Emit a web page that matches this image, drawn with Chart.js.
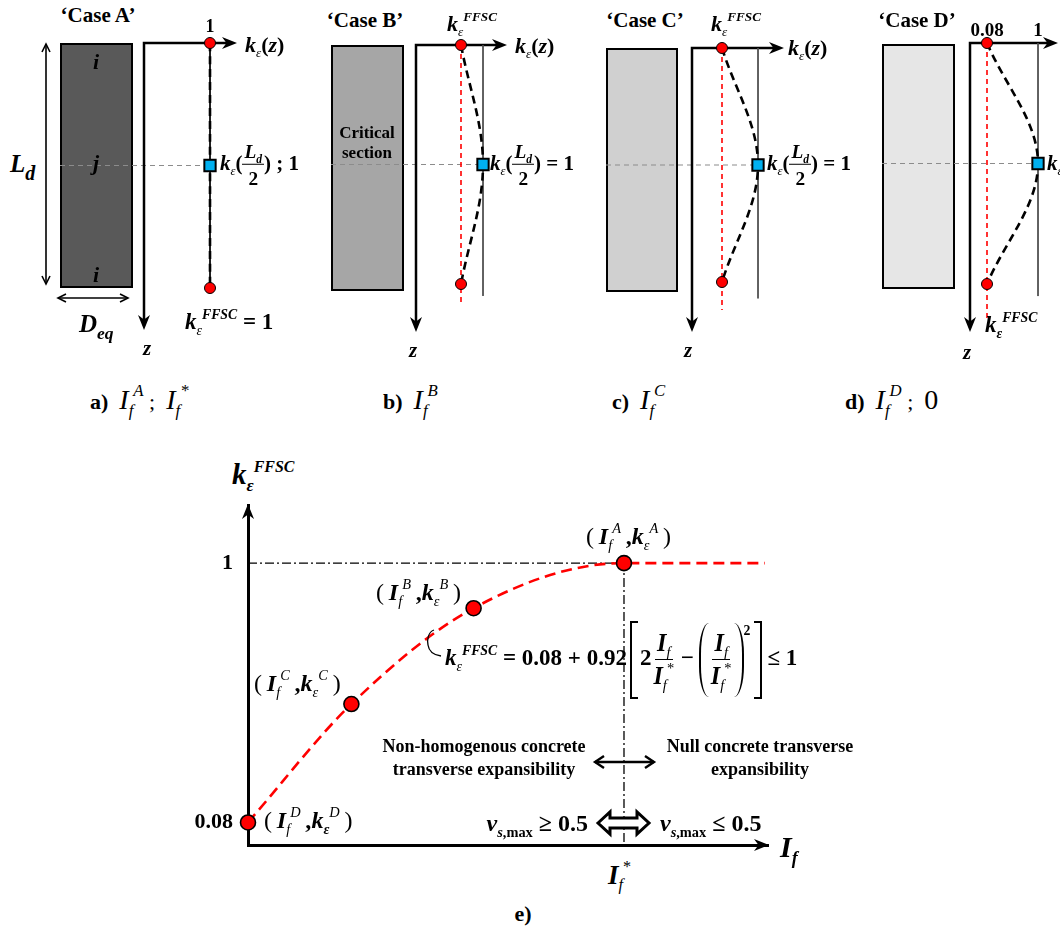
<!DOCTYPE html>
<html>
<head>
<meta charset="utf-8">
<script src="https://cdn.jsdelivr.net/npm/chart.js@4.4.0/dist/chart.umd.min.js"></script>
<style>
html, body { margin: 0; padding: 0; background: #fff; overflow: hidden; }
#page { position: relative; width: 1060px; height: 930px; font-family: "Liberation Serif", "Times New Roman", serif; font-weight: bold; color: #000; }
canvas { position: absolute; }
.lbl { position: absolute; white-space: nowrap; line-height: 1; }
.i { font-style: italic; }
.n { font-weight: normal; }
sub, sup { font-size: 60%; line-height: 0; position: relative; vertical-align: baseline; }
sup { top: -0.75em; }
sub { top: 0.4em; }
.col { position: absolute; box-sizing: border-box; border: 2.5px solid #000; }
.frac { display: inline-flex; flex-direction: column; align-items: center; vertical-align: middle; line-height: 1.1; }
.frac > span { display: block; padding: 0 2px; }
.frac > span:first-child { border-bottom: 1.5px solid #000; padding-bottom: 2px; }
.frac > span:last-child { padding-top: 3px; }
.cap { font-weight: normal; font-style: italic; font-size: 28px; }
.bl, .br { display: inline-block; width: 8px; height: 78px; border: 2.5px solid #000; vertical-align: middle; box-sizing: border-box; }
.bl { border-right: none; margin: 0 2px 0 3px; }
.br { border-left: none; margin: 0 5px 0 4px; }
.pl, .pr { display: inline-block; width: 10px; height: 74px; vertical-align: middle; box-sizing: border-box; }
.pl { border-left: 2.5px solid #000; border-radius: 12px 0 0 12px / 37px 0 0 37px; margin-left: 5px; }
.pr { border-right: 2.5px solid #000; border-radius: 0 12px 12px 0 / 0 37px 37px 0; }
svg { position: absolute; left: 0; top: 0; }
</style>
</head>
<body>
<div id="page"></div>
<script>
// ---------- data ----------
// top panels: k_eps^FFSC of each case, z/Ld of the two end sections and the critical section
const caseNames = ['A', 'B', 'C', 'D'];
const caseKffsc = [1, 0.84, 0.50, 0.08];
const profileZ = [0, 0.5, 1];
const refLineEndZ = [1, 1.05, 1.07, 1.05];      // thin k=1 line
const redLineEndZ = [0, 1.09, 1.12, 1.15];      // red dashed k=kFFSC line

// main chart e): I_f/I_f* and k_eps^FFSC (cases D, C, B, A, end of plateau)
const mainIf = [0, 0.275, 0.6, 1, 1.375];
const mainK = [0.08, 0.50, 0.84, 1, 1];
const mainMarked = [true, true, true, true, false];
const yTickValues = [0.08, 1];
const yTickLabels = ['0.08', '1'];

// ---------- layout ----------
const page = document.getElementById('page');
const panelLayout = [
  { left: 60,  top: 43, right: 237,  bottom: 330, axisX: 144, oneX: 210,  redX: 210, ppu: 66, zOneY: 288, rect: [60, 43, 73, 245],  fill: '#595959' },
  { left: 331, top: 45, right: 507,  bottom: 332, axisX: 416, oneX: 483,  redX: 461, zOneY: 284, rect: [331, 45, 73, 246], fill: '#a6a6a6' },
  { left: 606, top: 48, right: 784,  bottom: 332, axisX: 692, oneX: 758,  redX: 722, zOneY: 282, rect: [606, 48, 72, 244], fill: '#d0d0d0' },
  { left: 882, top: 43, right: 1058, bottom: 332, axisX: 970, oneX: 1038, redX: 987, zOneY: 284, rect: [882, 44, 73, 245], fill: '#e6e6e6' }
];

function makeCanvas(x, y, w, h) {
  const c = document.createElement('canvas');
  c.width = w; c.height = h;
  c.style.left = x + 'px'; c.style.top = y + 'px';
  page.appendChild(c);
  return c;
}

function label(html, x, y, size, align) {
  const d = document.createElement('div');
  d.className = 'lbl';
  d.style.left = x + 'px';
  d.style.top = y + 'px';
  d.style.fontSize = size + 'px';
  if (align) d.style.textAlign = align;
  const tx = align === 'center' ? '-50%' : align === 'right' ? '-100%' : '0';
  d.style.transform = 'translate(' + tx + ', -50%)';
  d.innerHTML = html;
  page.appendChild(d);
  return d;
}

function fillArrow(ctx, x, y, dir, len, half) {
  // filled arrowhead with tip at (x, y)
  ctx.save();
  ctx.translate(x, y);
  ctx.rotate(dir);
  ctx.beginPath();
  ctx.moveTo(0, 0);
  ctx.lineTo(-len, -half);
  ctx.lineTo(-len * 0.7, 0);
  ctx.lineTo(-len, half);
  ctx.closePath();
  ctx.fillStyle = '#000';
  ctx.fill();
  ctx.restore();
}

// ---------- top panels ----------
const panelDecor = {
  id: 'panelDecor',
  beforeDatasetsDraw(chart, args, opts) {
    const { ctx, chartArea } = chart;
    const xs = chart.scales.x, ys = chart.scales.y;
    const ax = xs.getPixelForValue(opts.axisK);
    const y0 = ys.getPixelForValue(0);
    const ym = ys.getPixelForValue(0.5);
    ctx.save();
    // mid-height section line
    ctx.strokeStyle = '#8c8c8c';
    ctx.lineWidth = 1.2;
    ctx.setLineDash([5, 4]);
    ctx.beginPath();
    ctx.moveTo(chartArea.left, ym);
    ctx.lineTo(xs.getPixelForValue(1), ym);
    ctx.stroke();
    ctx.setLineDash([]);
    // axes
    ctx.strokeStyle = '#000';
    ctx.lineWidth = 2.5;
    ctx.beginPath();
    ctx.moveTo(ax, chartArea.bottom - 8);
    ctx.lineTo(ax, y0);
    ctx.lineTo(chartArea.right - 8, y0);
    ctx.stroke();
    fillArrow(ctx, ax, chartArea.bottom, Math.PI / 2, 15, 6);
    fillArrow(ctx, chartArea.right, y0, 0, 15, 6);
    ctx.restore();
  }
};

caseNames.forEach((name, i) => {
  const L = panelLayout[i];
  const kF = caseKffsc[i];
  const ppu = kF < 1 ? (L.oneX - L.redX) / (1 - kF) : L.ppu;
  const xMin = 1 - (L.oneX - L.left) / ppu;
  const xMax = 1 + (L.right - L.oneX) / ppu;
  const axisK = 1 - (L.oneX - L.axisX) / ppu;
  const zMax = (L.bottom - L.top) / (L.zOneY - L.top);

  const r = document.createElement('div');
  r.className = 'col';
  r.style.left = L.rect[0] + 'px'; r.style.top = L.rect[1] + 'px';
  r.style.width = L.rect[2] + 'px'; r.style.height = L.rect[3] + 'px';
  r.style.background = L.fill;
  page.appendChild(r);

  const M = 12;
  const cv = makeCanvas(L.left - M, L.top - M, L.right - L.left + 2 * M, L.bottom - L.top + 2 * M);
  const datasets = [
    {
      data: [{ x: 1, y: 0 }, { x: 1, y: refLineEndZ[i] }],
      showLine: true, borderColor: i === 0 ? '#000' : '#4d4d4d', borderWidth: 1,
      pointRadius: 0, order: 5
    },
    {
      data: [{ x: kF, y: profileZ[0] }, { x: 1, y: profileZ[1] }, { x: kF, y: profileZ[2] }],
      showLine: true, borderColor: '#000', borderWidth: 2.6, borderDash: [8, 5], tension: 0.35,
      pointRadius: 0, order: 3
    },
    {
      data: [{ x: kF, y: profileZ[0] }, { x: kF, y: profileZ[2] }],
      showLine: false, pointRadius: 5.5, pointBackgroundColor: '#ff0000',
      pointBorderColor: '#000', pointBorderWidth: 1, order: 2
    },
    {
      data: [{ x: 1, y: profileZ[1] }],
      showLine: false, pointStyle: 'rect', pointRadius: 8, pointBackgroundColor: '#00b0f0',
      pointBorderColor: '#000', pointBorderWidth: 2, order: 1
    }
  ];
  if (kF < 1) {
    datasets.push({
      data: [{ x: kF, y: 0 }, { x: kF, y: redLineEndZ[i] }],
      showLine: true, borderColor: '#ff0000', borderWidth: 1.6, borderDash: [5, 4],
      pointRadius: 0, order: 4
    });
  }
  datasets.forEach(d => { d.clip = false; });

  new Chart(cv, {
    type: 'scatter',
    data: { datasets: datasets },
    options: {
      responsive: false, animation: false, devicePixelRatio: 1, events: [],
      layout: { padding: M },
      scales: {
        x: { type: 'linear', display: false, min: xMin, max: xMax },
        y: { type: 'linear', display: false, min: 0, max: zMax, reverse: true }
      },
      plugins: { legend: { display: false }, tooltip: { enabled: false }, panelDecor: { axisK: axisK } }
    },
    plugins: [panelDecor]
  });
});

// ---------- main chart e) ----------
const mainDecor = {
  id: 'mainDecor',
  afterDraw(chart) {
    const { ctx, chartArea } = chart;
    fillArrow(ctx, chartArea.left, chartArea.top - 1, -Math.PI / 2, 15, 6);
    fillArrow(ctx, chartArea.right + 1, chartArea.bottom, 0, 15, 6);
  }
};

const mainCanvas = makeCanvas(188, 495, 600, 360);
const curvePoints = mainIf.map((v, i) => ({ x: v, y: mainK[i] }));
const pA = curvePoints[3];
new Chart(mainCanvas, {
  type: 'scatter',
  data: {
    datasets: [
      {
        data: curvePoints,
        showLine: true, borderColor: '#ff0000', borderWidth: 2.6, borderDash: [11, 6],
        cubicInterpolationMode: 'monotone',
        pointRadius: mainMarked.map(m => m ? 7.5 : 0),
        pointBackgroundColor: '#ff0000', pointBorderColor: '#000', pointBorderWidth: 1.6,
        clip: false, order: 1
      },
      {
        data: [{ x: 0, y: pA.y }, { x: pA.x, y: pA.y }, { x: pA.x, y: 0 }],
        showLine: true, borderColor: '#000', borderWidth: 1.3, borderDash: [9, 3, 2, 3],
        pointRadius: 0, clip: false, order: 2
      }
    ]
  },
  options: {
    responsive: false, animation: false, devicePixelRatio: 1, events: [],
    layout: { padding: { left: 0, top: 10, right: 20, bottom: 10 } },
    scales: {
      x: {
        type: 'linear', min: 0, max: 1.383,
        grid: { display: false, drawTicks: false },
        ticks: { display: false },
        border: { color: '#000', width: 3 },
        afterFit(s) { s.height = 0; s.paddingLeft = 0; s.paddingRight = 0; }
      },
      y: {
        type: 'linear', min: 0, max: 1.206,
        grid: { display: false, drawTicks: false },
        border: { color: '#000', width: 3 },
        afterBuildTicks(s) { s.ticks = yTickValues.map(v => ({ value: v })); },
        ticks: {
          callback: (v, i) => yTickLabels[i],
          font: { family: 'Liberation Serif', size: 22, weight: 'bold' },
          color: '#000', padding: 15
        },
        afterFit(s) { s.width = 60; s.paddingTop = 0; s.paddingBottom = 0; }
      }
    },
    plugins: { legend: { display: false }, tooltip: { enabled: false } }
  },
  plugins: [mainDecor]
});

// ---------- text ----------
const eps = '<sub class="i n">ε</sub>';
const epsB = '<sub class="i">ε</sub>';
const k = '<span class="i">k</span>' + eps;
const kB = '<span class="i">k</span>' + epsB;
const kz = k + '(<span class="i">z</span>)';
const kLd = k + '(<span class="frac" style="font-size:92%"><span class="i">L<sub class="i">d</sub></span><span>2</span></span>)';
const ffsc = '<sup class="i">FFSC</sup>';
const If = '<span class="i">I</span><sub class="i n">f</sub>';
const capI = s => '<span class="cap">I<sub>f</sub><sup>' + s + '</sup></span>';

label('‘Case A’', 98, 15, 21, 'center');
label('‘Case B’', 365, 20, 21, 'center');
label('‘Case C’', 645, 20, 21, 'center');
label('‘Case D’', 917, 20, 21, 'center');

label('1', 210, 26, 18, 'center');
label(kz, 245, 45, 22);
label(kz, 515, 46, 22);
label(kz, 788, 48, 22);
label(kLd + '&nbsp;;&nbsp;1', 220, 165, 21);
label(kLd + '&nbsp;=&nbsp;1', 490, 165, 21);
label(kLd + '&nbsp;=&nbsp;1', 767, 165, 21);
label(kLd + '&nbsp;=&nbsp;1', 1047, 165, 21);
label(k + ffsc + '&nbsp;=&nbsp;1', 185, 321, 23);
label(k + ffsc, 447, 24, 22);
label(k + ffsc, 711, 24, 22);
label(kB + ffsc, 985, 324, 23);
label('0.08', 987, 29, 19, 'center');
label('1', 1038, 29, 19, 'center');

label('<span class="i">L<sub class="i" style="font-size:80%">d</sub></span>', 10, 163, 25);
label('<span class="i">D<sub class="i" style="font-size:70%">eq</sub></span>', 79, 323, 25);
label('<span class="i">i</span>', 96, 62, 22, 'center');
label('<span class="i">j</span>', 96, 163, 22, 'center');
label('<span class="i">i</span>', 96, 275, 22, 'center');
label('Critical<br>section', 367, 143, 17, 'center').style.lineHeight = '1.2';
label('<span class="i">z</span>', 147, 348, 21, 'center');
label('<span class="i">z</span>', 413, 350, 21, 'center');
label('<span class="i">z</span>', 688, 350, 21, 'center');
label('<span class="i">z</span>', 967, 352, 21, 'center');

label('a)&nbsp; ' + capI('A') + ' <span class="n">;</span>&nbsp; ' + capI('*'), 90, 400, 22);
label('b)&nbsp; ' + capI('B'), 383, 400, 22);
label('c)&nbsp; ' + capI('C'), 612, 400, 22);
label('d)&nbsp; ' + capI('D') + ' <span class="n">;</span>&nbsp; <span class="n" style="font-size:28px">0</span>', 845, 400, 22);

// main chart labels
label('<span class="i">k</span><sub class="i">ε</sub><sup class="i" style="font-size:55%">FFSC</sup>', 232, 474, 29);
const ptLbl = (s, kk) => '<span class="n">(</span>&thinsp;' + If + '<sup class="i n">' + s + '</sup>&thinsp;,' + kk + '<sup class="i n">' + s + '</sup>&thinsp;<span class="n">)</span>';
label(ptLbl('A', k), 586, 536, 24);
label(ptLbl('B', k), 376, 592, 24);
label(ptLbl('C', k), 254, 683, 24);
label(ptLbl('D', kB), 264, 820, 24);

const fr = (den) => '<span class="frac" style="font-size:105%"><span>' + If + '</span><span>' + If + den + '</span></span>';
label(k + ffsc + '&nbsp;= 0.08 + 0.92<span class="bl"></span>2' + fr('<sup class="n">*</sup>') +
  '&thinsp;−<span class="pl"></span>' + fr('<sup class="n">*</sup>') + '<span class="pr"></span><sup style="top:-30px">2</sup><span class="br"></span>≤ 1',
  445, 660, 23);

label('Non-homogenous concrete<br>transverse expansibility', 484, 758, 18, 'center').style.lineHeight = '1.3';
label('Null concrete transverse<br>expansibility', 760, 758, 18, 'center').style.lineHeight = '1.3';
label('<span class="i">v</span><sub><span class="i">s</span>,max</sub> ≥ 0.5', 588, 823, 24, 'right');
label('<span class="i">v</span><sub><span class="i">s</span>,max</sub> ≤ 0.5', 660, 823, 24);
label('<span class="i">I<sub>f</sub></span>', 780, 847, 30);
label('<span class="i">I</span><sub class="i n">f</sub><sup class="n">*</sup>', 608, 875, 27);
label('e)', 523, 914, 22, 'center');

// ---------- arrows / connectors ----------
const svgNS = 'http://www.w3.org/2000/svg';
const svg = document.createElementNS(svgNS, 'svg');
svg.setAttribute('width', 1060);
svg.setAttribute('height', 930);
svg.innerHTML =
  // L_d and D_eq dimension arrows
  '<g stroke="#000" stroke-width="1.6" fill="none">' +
  '<line x1="46" y1="44" x2="46" y2="284"/><polyline points="42,52 46,44 50,52"/><polyline points="42,276 46,284 50,276"/>' +
  '<line x1="58" y1="298" x2="128" y2="298"/><polyline points="66,294 58,298 66,302"/><polyline points="120,294 128,298 120,302"/>' +
  '</g>' +
  // small double arrow
  '<g stroke="#000" stroke-width="2.4" fill="none">' +
  '<line x1="595" y1="762" x2="654" y2="762"/><polyline points="604,756 595,762 604,768"/><polyline points="645,756 654,762 645,768"/>' +
  '</g>' +
  // hollow double arrow
  '<path d="M598,823 L610,812 L610,818 L637,818 L637,812 L649,823 L637,834 L637,828 L610,828 L610,834 Z" stroke="#000" stroke-width="3" fill="#fff" stroke-linejoin="miter"/>' +
  // connector from curve to formula
  '<path d="M434,630 C428,632 427,640 428,645 C429,652 433,655 441,656" stroke="#000" stroke-width="1.3" fill="none"/>';
page.appendChild(svg);
</script>
</body>
</html>
